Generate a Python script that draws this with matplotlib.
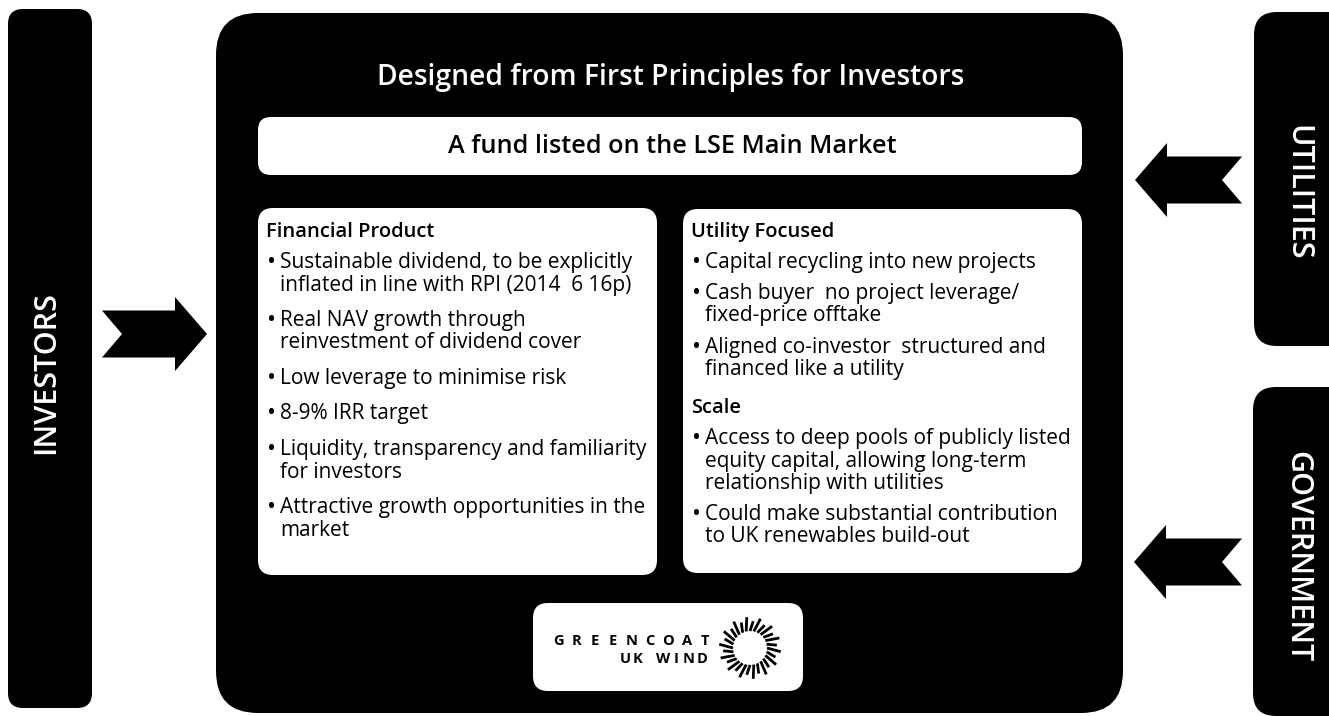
import matplotlib
matplotlib.use("Agg")
import matplotlib.pyplot as plt
from matplotlib.patches import FancyBboxPatch, Polygon
import numpy as np

# ---------------- content ----------------
TITLE = "Designed from First Principles for Investors"
SUBTITLE = "A fund listed on the LSE Main Market"
SIDE_LABELS = ["INVESTORS", "UTILITIES", "GOVERNMENT"]
LEFT_HEADER = "Financial Product"
LEFT_BULLETS = [
    ["Sustainable dividend, to be explicitly", "inflated in line with RPI (2014  6 16p)"],
    ["Real NAV growth through", "reinvestment of dividend cover"],
    ["Low leverage to minimise risk"],
    ["8-9% IRR target"],
    ["Liquidity, transparency and familiarity", "for investors"],
    ["Attractive growth opportunities in the", "market"],
]
RIGHT_HEADERS = ["Utility Focused", "Scale"]
RIGHT_BULLETS = [
    [["Capital recycling into new projects"],
     ["Cash buyer  no project leverage/", "fixed-price offtake"],
     ["Aligned co-investor  structured and", "financed like a utility"]],
    [["Access to deep pools of publicly listed", "equity capital, allowing long-term",
      "relationship with utilities"],
     ["Could make substantial contribution", "to UK renewables build-out"]],
]
LOGO_TOP = "GREENCOAT"
LOGO_BOTTOM = "UK WIND"

FONT = ["Open Sans", "DejaVu Sans"]
plt.rcParams["font.family"] = FONT

W, H = 1329, 716
fig = plt.figure(figsize=(W / 100, H / 100), dpi=100)
fig.patch.set_facecolor("white")
ax = fig.add_axes([0, 0, 1, 1])
ax.set_xlim(0, W)
ax.set_ylim(H, 0)
ax.axis("off")


def rbox(x0, y0, x1, y1, r, color):
    p = FancyBboxPatch((x0, y0), x1 - x0, y1 - y0,
                       boxstyle=f"round,pad=0,rounding_size={r}",
                       facecolor=color, edgecolor="none", zorder=2)
    ax.add_patch(p)


def arrow(x_tail, x_tip, yc, direction):
    # notched block arrow; direction +1 -> right, -1 -> left
    head = 32
    notch = 20
    body_h = 23.5
    head_h = 37
    d = direction
    xb = x_tip - d * head
    pts = [(x_tail, yc - body_h), (xb, yc - body_h), (xb, yc - head_h),
           (x_tip, yc), (xb, yc + head_h), (xb, yc + body_h),
           (x_tail, yc + body_h), (x_tail + d * notch, yc)]
    ax.add_patch(Polygon(pts, closed=True, facecolor="black", edgecolor="none", zorder=3))


# side bars
rbox(8, 9, 92, 708, 15, "black")
rbox(1254, 12, 1360, 346, 23, "black")
rbox(1253, 387, 1360, 716, 23, "black")
side_kw = dict(color="white", fontsize=22, fontweight="semibold", ha="center",
               va="center", zorder=5)
ax.text(46, 373, SIDE_LABELS[0], rotation=90, **side_kw)
ax.text(1297, 193, SIDE_LABELS[1], rotation=-90, **side_kw)
ax.text(1297, 557, SIDE_LABELS[2], rotation=-90, **side_kw)

# arrows
arrow(102, 207, 334, +1)
arrow(1242, 1135, 180, -1)
arrow(1242, 1134, 562, -1)

# main box
rbox(216, 13, 1123, 713, 42, "black")
ax.text(671, 85, TITLE, color="white", fontsize=20.3, fontweight="semibold",
        ha="center", va="baseline", zorder=5)
rbox(258, 117, 1082, 175, 13, "white")
ax.text(672, 153, SUBTITLE, color="black", fontsize=18.2, fontweight="semibold",
        ha="center", va="baseline", zorder=5)

# content boxes
rbox(258, 208, 657, 575, 15, "white")
rbox(683, 209, 1082, 573, 15, "white")

HDR = dict(color="black", fontsize=14.5, fontweight="semibold", va="baseline", zorder=5)
TXT = dict(color="black", fontsize=15, va="baseline", zorder=5)
BUL = dict(color="black", fontsize=17, va="baseline", zorder=5)
LINE = 22.5


def bullets(x, y, items, step):
    for i, lines in enumerate(items):
        if i > 0:
            y += step
        ax.text(x - 1, y + 1, "\u2022", **BUL)
        for j, ln in enumerate(lines):
            if j > 0:
                y += LINE
            ax.text(x + 12, y, ln, **TXT)
    return y


# left box
ax.text(266, 237, LEFT_HEADER, **HDR)
bullets(268, 268, LEFT_BULLETS, 35.5)

# right box
y = 237
for k, (hdr, items) in enumerate(zip(RIGHT_HEADERS, RIGHT_BULLETS)):
    if k > 0:
        y += 38
    ax.text(691, y, hdr, **HDR)
    y = bullets(693, y + 31, items, 31)

# logo
rbox(533, 603, 803, 691, 15, "white")
for i, ch in enumerate(LOGO_TOP):
    ax.text(558 + i * 18.4, 645, ch, color="black", fontsize=10.5, fontweight="bold",
            ha="center", va="baseline", zorder=5)
for i, ch in enumerate(LOGO_BOTTOM):
    ax.text(625 + i * 12.8, 663, ch, color="black", fontsize=10.5, fontweight="bold",
            ha="center", va="baseline", zorder=5)
cx, cy = 750, 648
n_rays = 28
for i in range(n_rays):
    a = 2 * np.pi * i / n_rays
    r0, r1 = 17, 31 if i % 2 == 0 else 27
    tw = 0.12
    ax.plot([cx + r0 * np.cos(a), cx + r1 * np.cos(a + tw)],
            [cy + r0 * np.sin(a), cy + r1 * np.sin(a + tw)],
            color="black", lw=2.0, solid_capstyle="butt", zorder=5)

fig.savefig("out.png", dpi=100, facecolor="white")
